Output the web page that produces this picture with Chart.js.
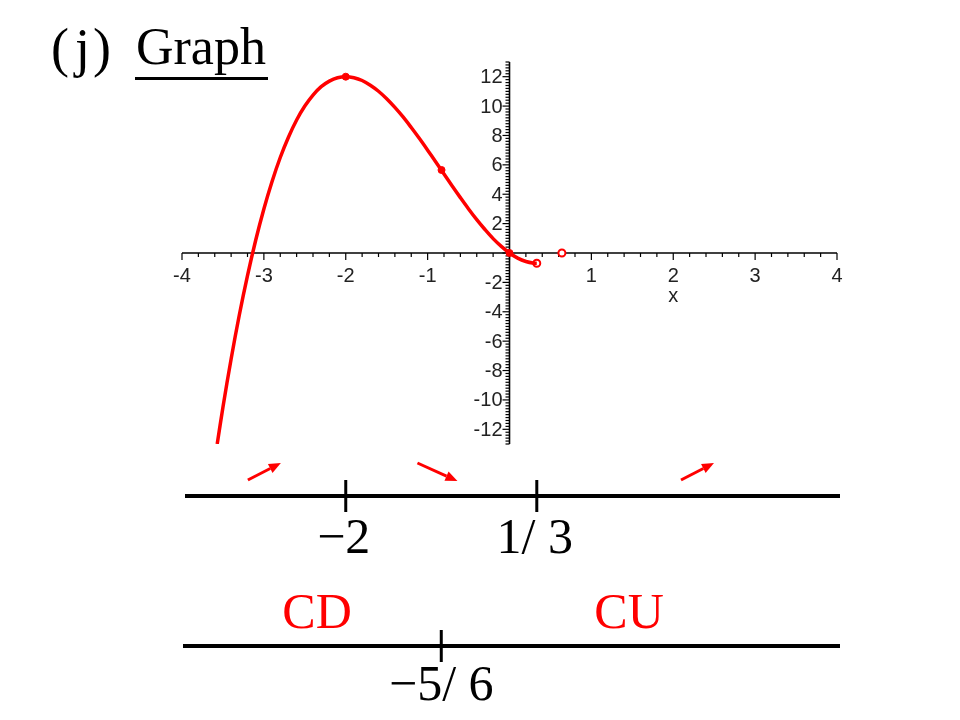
<!DOCTYPE html>
<html>
<head>
<meta charset="utf-8">
<script src="https://cdn.jsdelivr.net/npm/chart.js@4.4.1/dist/chart.umd.min.js"></script>
<style>
  html, body { margin: 0; padding: 0; background: #fff; overflow: hidden; }
  canvas { display: block; }
</style>
</head>
<body>
<canvas id="grafica" width="960" height="720"></canvas>
<script>
// ── DATOS ─────────────────────────────────────────────────────
const curvaX = [-3.57, -3.5, -3.4, -3.3, -3.2, -3.1, -3.0, -2.9, -2.8, -2.7, -2.6, -2.5,
    -2.4, -2.3, -2.2, -2.1, -2.0, -1.9, -1.8, -1.7, -1.6, -1.5, -1.4, -1.3, -1.2, -1.1,
    -1.0, -0.9, -0.8, -0.7, -0.6, -0.5, -0.4, -0.3, -0.2, -0.1, 0, 0.1, 0.2, 0.3, 0.333];
const curvaY = [-13.0, -10.5, -7.21, -4.22, -1.54, 0.87, 3.0, 4.87, 6.5, 7.88, 9.05, 10.0,
    10.75, 11.32, 11.7, 11.93, 12.0, 11.93, 11.74, 11.42, 11.01, 10.5, 9.91, 9.26, 8.54, 7.79,
    7.0, 6.19, 5.38, 4.56, 3.77, 3.0, 2.27, 1.6, 0.98, 0.45, 0, -0.35, -0.58, -0.7, -0.7];

const puntosLlenos = [{ x: -2, y: 12 }, { x: -0.83, y: 5.65 }, { x: 0, y: 0 }];
const puntosAbiertos = [{ x: 0.333, y: -0.7 }, { x: 0.64, y: 0 }];

const ticksX = [-4, -3, -2, -1, 1, 2, 3, 4];
const ticksY = [-12, -10, -8, -6, -4, -2, 2, 4, 6, 8, 10, 12];

// recta de monotonía y de concavidad
const marcasMono = [-2, 1 / 3];
const etiquetasMono = ['\u22122', '1/ 3'];
const flechasMono = [{ x: -3.0, dir: 'up' }, { x: -0.88, dir: 'down' }, { x: 2.29, dir: 'up' }];
const marcasConc = [-5 / 6];
const etiquetasConc = ['\u22125/ 6'];
const concavidad = [{ x: -2.35, txt: 'CD' }, { x: 1.46, txt: 'CU' }];

const ROJO = '#ff0000';

// ── EJES QUE SE CRUZAN EN EL ORIGEN ───────────────────────────
function linea(ctx, x1, y1, x2, y2) {
    ctx.beginPath();
    ctx.moveTo(x1, y1);
    ctx.lineTo(x2, y2);
    ctx.stroke();
}

const ejesCruzados = {
    id: 'ejesCruzados',
    beforeDatasetsDraw(chart) {
        const { ctx, scales: { x, y } } = chart;
        const x0 = x.getPixelForValue(0);
        const y0 = y.getPixelForValue(0);
        ctx.save();
        ctx.strokeStyle = '#000';
        ctx.lineWidth = 1.6;
        linea(ctx, x.left, y0, x.right, y0);
        linea(ctx, x0, y.top, x0, y.bottom);

        ctx.lineWidth = 1.2;
        for (let i = -20; i <= 20; i++) {
            const px = x.getPixelForValue(i / 5);
            linea(ctx, px, y0, px, y0 + (i % 5 === 0 ? 7 : 4));
        }
        for (let i = -65; i <= 65; i++) {
            const py = y.getPixelForValue(i / 5);
            linea(ctx, x0 - (i % 10 === 0 ? 7 : 4), py, x0, py);
        }

        ctx.fillStyle = '#222';
        ctx.font = '20px "Liberation Sans", Arial, sans-serif';
        ctx.textAlign = 'center';
        ctx.textBaseline = 'alphabetic';
        ticksX.forEach(v => ctx.fillText(String(v), x.getPixelForValue(v), y0 + 29));
        ctx.fillText('x', x.getPixelForValue(2), y0 + 49);

        ctx.textAlign = 'right';
        ctx.textBaseline = 'middle';
        ticksY.forEach(v => ctx.fillText(String(v), x0 - 7, y.getPixelForValue(v) + 1));
        ctx.restore();
    }
};

// ── TÍTULO Y RECTAS NUMÉRICAS ─────────────────────────────────
function flecha(ctx, x1, y1, x2, y2) {
    const ang = Math.atan2(y2 - y1, x2 - x1);
    const largo = 12, ancho = 5;
    const bx = x2 - largo * Math.cos(ang), by = y2 - largo * Math.sin(ang);
    linea(ctx, x1, y1, bx, by);
    ctx.beginPath();
    ctx.moveTo(x2, y2);
    ctx.lineTo(bx + ancho * Math.sin(ang), by - ancho * Math.cos(ang));
    ctx.lineTo(bx - ancho * Math.sin(ang), by + ancho * Math.cos(ang));
    ctx.closePath();
    ctx.fill();
}

const anotaciones = {
    id: 'anotaciones',
    afterDraw(chart) {
        const { ctx, scales: { x } } = chart;
        const izq = x.getPixelForValue(-4) + 3;
        const der = x.getPixelForValue(4) + 3;
        ctx.save();

        // título
        ctx.fillStyle = '#000';
        ctx.textBaseline = 'alphabetic';
        ctx.textAlign = 'left';
        ctx.font = '54px "Liberation Serif", "Times New Roman", serif';
        ctx.fillText('(', 51, 66);
        ctx.fillText('j', 75, 66);
        ctx.fillText(')', 93, 66);
        ctx.font = '52px "Liberation Serif", "Times New Roman", serif';
        ctx.fillText('Graph', 136, 64);
        ctx.fillRect(135, 77, 133, 3);

        // recta de crecimiento
        ctx.strokeStyle = '#000';
        ctx.lineWidth = 4;
        linea(ctx, izq, 496, der, 496);
        ctx.lineWidth = 3;
        ctx.font = '50px "Liberation Serif", "Times New Roman", serif';
        ctx.textAlign = 'center';
        marcasMono.forEach((v, i) => {
            const px = x.getPixelForValue(v);
            linea(ctx, px, 480, px, 512);
            ctx.fillText(etiquetasMono[i], px - 2, 553);
        });

        ctx.strokeStyle = ROJO;
        ctx.fillStyle = ROJO;
        ctx.lineWidth = 3;
        flechasMono.forEach(f => {
            const c = x.getPixelForValue(f.x);
            if (f.dir === 'up') flecha(ctx, c - 16, 480, c + 17, 463);
            else flecha(ctx, c - 20, 463, c + 20, 481);
        });

        // recta de concavidad
        ctx.font = '50px "Liberation Serif", "Times New Roman", serif';
        concavidad.forEach(c => ctx.fillText(c.txt, x.getPixelForValue(c.x), 628));
        ctx.strokeStyle = '#000';
        ctx.fillStyle = '#000';
        ctx.lineWidth = 4;
        linea(ctx, izq - 2, 646, der, 646);
        ctx.lineWidth = 3;
        marcasConc.forEach((v, i) => {
            const px = x.getPixelForValue(v);
            linea(ctx, px, 630, px, 662);
            ctx.fillText(etiquetasConc[i], px, 700);
        });
        ctx.restore();
    }
};

// ── GRÁFICA ───────────────────────────────────────────────────
new Chart(document.getElementById('grafica').getContext('2d'), {
    type: 'scatter',
    data: {
        datasets: [
            {
                data: curvaX.map((v, i) => ({ x: v, y: curvaY[i] })),
                showLine: true,
                borderColor: ROJO,
                borderWidth: 3.5,
                tension: 0.35,
                pointRadius: 0,
            },
            {
                data: puntosLlenos,
                pointRadius: 3.5,
                backgroundColor: ROJO,
                borderColor: ROJO,
            },
            {
                data: puntosAbiertos,
                pointRadius: 3.5,
                borderWidth: 2,
                backgroundColor: '#fff',
                borderColor: ROJO,
            },
        ],
    },
    options: {
        responsive: false,
        animation: false,
        layout: { padding: { left: 182, right: 123, top: 62, bottom: 276 } },
        scales: {
            x: { type: 'linear', min: -4, max: 4, display: false },
            y: { type: 'linear', min: -13, max: 13, display: false },
        },
        plugins: { legend: { display: false }, tooltip: { enabled: false } },
    },
    plugins: [ejesCruzados, anotaciones],
});
</script>
</body>
</html>
